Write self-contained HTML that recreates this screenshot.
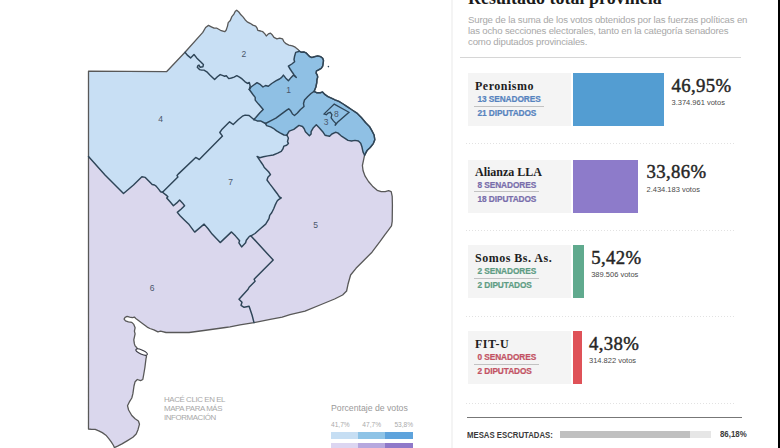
<!DOCTYPE html>
<html><head><meta charset="utf-8">
<style>
*{margin:0;padding:0;box-sizing:border-box}
html,body{width:780px;height:448px;overflow:hidden;background:#fff}
body{position:relative;font-family:"Liberation Sans",sans-serif}
.a{position:absolute;white-space:nowrap}
.serif{font-family:"Liberation Serif",serif}
.map{position:absolute;left:0;top:0}
.lbl{font-family:"Liberation Sans",sans-serif;font-size:8.5px;fill:#4a566a}
.vline{position:absolute;left:451px;top:0;width:2px;height:448px;background:#f4f4f4}
.rbar{position:absolute;left:778px;top:0;width:2px;height:448px;background:#000}
.title{left:468px;top:-10.6px;font-size:18px;font-weight:bold;color:#1a1a1a;line-height:18px}
.desc{left:468px;top:15px;font-size:9.6px;letter-spacing:-0.16px;line-height:10.75px;color:#a8a8a8}
.sep{position:absolute;left:460px;top:57px;width:281px;height:1px;background:#d6d6d6}
.box{position:absolute;left:468px;width:103px;height:53px;background:#f4f4f4}
.bar{position:absolute;left:573px;height:53px}
.party{position:absolute;left:475px;font-family:"Liberation Serif",serif;font-weight:bold;font-size:12px;letter-spacing:0.5px;color:#1e1e1e;white-space:nowrap;line-height:14px}
.seat{position:absolute;left:474px;font-weight:bold;font-size:8.3px;letter-spacing:-0.08px;-webkit-text-stroke:0.2px currentColor;line-height:10px;white-space:nowrap;padding:0 3.3px 1.5px 3.5px}
.pct{position:absolute;font-family:"Liberation Serif",serif;font-size:18.8px;letter-spacing:0.35px;color:#262626;-webkit-text-stroke:0.45px #262626;line-height:20px;white-space:nowrap}
.vot{position:absolute;font-size:7.5px;color:#4a4a4a;line-height:9px;white-space:nowrap}
.dots{position:absolute;left:466px;width:270px;height:1px;background-image:linear-gradient(to right,#e2e2e2 50%,transparent 50%);background-size:3px 1px}
.legend{font-size:8.7px;color:#9a9a9a}
.lnum{font-size:6.6px;color:#aaa}
.hint{left:164px;top:394.8px;font-size:7.9px;letter-spacing:-0.4px;line-height:9.25px;color:#a8a8a8}
</style></head><body>
<svg class="map" width="780" height="448" viewBox="0 0 780 448">
<g>
<polygon points="88.5,71.2 166.5,71.7 185,52.3 187.3,55.1 190.6,57.9 194,54.5 196.7,57.9 200.6,61.8 203.4,64.6 202.9,66.8 200.1,67.3 199,65.1 197.9,65.7 197.3,67.3 199.5,69.6 201.8,70.1 204,70.1 206.8,71.8 210.1,75.2 214.6,79.6 217.4,76.8 220.2,74.6 223,75.7 224.6,76.3 226.3,75.7 228.75,78.6 231.4,78 234.1,77.1 236.8,75.7 239.5,77.1 242.1,78.9 244.8,81.6 247.5,83.4 249.3,82.5 250.2,86 249.3,89.5 253.1,94.7 255.2,97.4 255.2,100.1 258.5,104.1 263.2,109.5 259.9,112.8 255.8,117.5 253.8,119.5 249.1,115.5 245.1,115.1 242.4,116.2 238.4,119.5 233.2,124.5 229.6,121.8 221.6,129.8 219.8,132.5 222.5,136.1 199.3,159.6 197.5,158.4 195.7,157.5 178.75,173.6 177,175.4 177.9,177.1 162.5,192.2 160.6,191.7 158.4,188.9 156.1,186.1 154.5,185 152.2,184.5 150,182.2 145.3,177.4 141.9,176.8 133.5,185 123.5,193.5 105,175 88.5,156.5" fill="#c8dff4"/>
<polygon points="185,52.3 202.8,32.4 205.6,27.5 208.5,25.4 211.3,26.8 214.1,28.2 216.9,28.2 220.5,30.3 224.7,31.7 226.1,30.3 227.5,26.1 228.2,22.6 230.3,20.5 231.7,16.9 233.9,14.1 235.3,11.3 236.7,10.2 238.8,12 240.9,14.8 243,16.9 245.1,19.7 247.2,21.9 250.1,23.3 252.9,25.1 255.7,26.1 257.1,28.2 257.8,30.3 260.6,31 262.8,31.7 264.9,33.9 266.3,36 268.4,33.9 270.5,33.1 272.6,35.3 274,37.4 276.9,38.8 279.7,38.1 282.5,38.8 283.9,41.6 286,43.7 288.9,45.1 292.4,45.8 295.2,47.2 298,49.4 299.6,51.3 295.7,52.4 294.6,56.2 294,59.5 294.6,61.7 291.8,64 288.4,66.2 290.1,69 292.3,72.3 294,74.6 296.3,77.4 293.5,75.1 291.2,77.4 288.4,80.7 285.6,77.9 283.4,75.1 281.7,77.4 279.5,79 276.2,80.7 271.7,83.5 268.3,86.3 265.5,85.5 263,87 260.5,84.7 257,82.7 251,87 249.3,89.5 250.2,86 249.3,82.5 247.5,83.4 244.8,81.6 242.1,78.9 239.5,77.1 236.8,75.7 234.1,77.1 231.4,78 228.75,78.6 226.3,75.7 224.6,76.3 223,75.7 220.2,74.6 217.4,76.8 214.6,79.6 210.1,75.2 206.8,71.8 204,70.1 201.8,70.1 199.5,69.6 197.3,67.3 197.9,65.7 199,65.1 200.1,67.3 202.9,66.8 203.4,64.6 200.6,61.8 196.7,57.9 194,54.5 190.6,57.9 187.3,55.1 185,52.3" fill="#c8dff4"/>
<polygon points="253.8,119.5 257.2,120.9 260.5,120.9 265.5,123.5 266.6,125.6 270.6,126.9 273.3,128.3 276.6,130.9 280,132.9 284,135 286.8,135.2 288.4,138 287.5,141.6 288.4,143.4 286.6,145.2 283.9,146.1 283,148.75 281.25,151.4 277.7,153.2 273.2,155 267.9,155.9 263.4,156.8 259.8,157.7 257.1,156.4 259.8,160.4 261.6,163 263.4,165.7 264.3,167.5 266.1,169.3 268.75,172 270.5,174.6 267.9,177.3 267,180 269.6,183.6 272.3,187.1 275,190.7 277.7,194.3 279.5,197 281.25,197.9 278.6,199.6 277,201.3 275,205.4 273.7,208.7 271.7,212.7 269.7,215.4 269,218.7 265.7,224.1 260.3,228.8 255,233.5 251,235.9 249.6,236.1 246.3,240.2 245.6,242.8 241.6,246.9 238.9,242.8 239.6,240.8 235.6,236.1 231.5,231.9 220.2,242.6 212.1,234.1 208.1,228.8 204.1,224.1 194.7,232.1 189.1,224.6 184.6,220.2 180.1,215.7 177.3,212.4 181.25,209 184.6,205.7 182.4,202.9 179.6,200.1 176.8,202.9 173.4,205.7 170.1,201.8 166.7,197.9 167.9,196.7 166.2,195.1 162.5,192.2 177.9,177.1 177,175.4 178.75,173.6 195.7,157.5 197.5,158.4 199.3,159.6 222.5,136.1 219.8,132.5 221.6,129.8 229.6,121.8 233.2,124.5 238.4,119.5 242.4,116.2 245.1,115.1 249.1,115.5 253.8,119.5" fill="#c8dff4"/>
<polygon points="88.5,156.5 105,175 123.5,193.5 133.5,185 141.9,176.8 145.3,177.4 150,182.2 152.2,184.5 154.5,185 156.1,186.1 158.4,188.9 160.6,191.7 162.5,192.2 166.2,195.1 167.9,196.7 166.7,197.9 170.1,201.8 173.4,205.7 176.8,202.9 179.6,200.1 182.4,202.9 184.6,205.7 181.25,209 177.3,212.4 180.1,215.7 184.6,220.2 189.1,224.6 194.7,232.1 204.1,224.1 208.1,228.8 212.1,234.1 220.2,242.6 231.5,231.9 235.6,236.1 239.6,240.8 238.9,242.8 241.6,246.9 245.6,242.8 246.3,240.2 249.6,236.1 251,235.9 273.2,260.1 254.1,279.2 255.1,281.2 249.1,287.2 248.1,289.2 239,299.2 242,302.2 241,305.3 244.1,307.3 249.1,306.3 250.1,309.3 252.1,315.3 254,322.6 240,324.9 230,326.9 225.4,327.5 203.9,330.5 189,332.5 176,332.5 166,332.5 160.6,331.1 157.9,331.8 153.9,329.8 149.9,328.5 147.2,327.1 143.8,324.4 141.1,322.4 138.5,320.4 135.8,318.4 134.4,317.1 132.4,317.7 129.7,317.1 127.1,316.4 125.1,317.3 124.1,319.1 125.5,320.8 128.4,321.8 131.8,322.4 133.8,324.4 135.1,327.8 134.4,331.1 135.1,333.8 134.4,337.2 133.8,339.9 134.4,343.9 135.1,345.9 136.4,347.2 138,349.5 141.5,351.5 145,353.5 146.5,356.6 146,358.7 144.9,367.5 143.8,374 142.8,379.5 140.6,380.6 137.3,379.5 135.1,381.7 134,386 132.9,393.7 131.8,398 129.7,401.3 127.5,405.7 128.6,410 131.8,415.5 135.1,418.8 138.4,421 139.5,424.2 138,429.7 136.2,434 132.9,437.3 127.5,440.6 122,443.9 117.6,446.1 114.4,447.6 113.5,445.5 111.25,441.9 108.6,438.4 105.9,435.2 102.3,432.6 98.75,430.8 95.2,429.3 91.6,429.4 88.5,429" fill="#dad7ed"/>
<polygon points="286.8,135.2 289.2,131.1 293.8,129.4 299,125.4 302.5,126.5 304.2,128.8 305.4,131.7 309.4,135.8 311.1,134 311.1,131.7 313.4,127.7 316.3,124.8 319.2,127.7 322.7,131.7 325,135.2 327.3,135.8 329.6,136.3 331.9,134 335.4,132.3 337.7,132.9 341.1,135.8 344.6,138.1 348,140.4 351.5,141 355,140.4 358.4,141 360.7,143.3 361.9,146.7 362.5,149.6 363,151.9 364.6,155.2 363.8,158.8 362.4,165.5 363.1,170.8 365.1,176.2 368.5,181.5 372.5,186.2 377.2,190.3 381.2,191.6 385.2,191.6 388.6,190.7 391.2,191.6 392.2,196.3 392.4,205 392.2,221.4 391.5,225.9 388.2,230.4 384.8,234.8 380.1,241.4 372,252.2 364,260.2 356,268.3 350.6,275 348,284.3 346.6,291 342.6,295 334.6,299 321.2,304.5 305,311.2 290,314.6 282.2,317.1 270.2,319.3 254,322.6 252.1,315.3 250.1,309.3 249.1,306.3 244.1,307.3 241,305.3 242,302.2 239,299.2 248.1,289.2 249.1,287.2 255.1,281.2 254.1,279.2 273.2,260.1 251,235.9 255,233.5 260.3,228.8 265.7,224.1 269,218.7 269.7,215.4 271.7,212.7 273.7,208.7 275,205.4 277,201.3 278.6,199.6 281.25,197.9 279.5,197 277.7,194.3 275,190.7 272.3,187.1 269.6,183.6 267,180 267.9,177.3 270.5,174.6 268.75,172 266.1,169.3 264.3,167.5 263.4,165.7 261.6,163 259.8,160.4 257.1,156.4 259.8,157.7 263.4,156.8 267.9,155.9 273.2,155 277.7,153.2 281.25,151.4 283,148.75 283.9,146.1 286.6,145.2 288.4,143.4 287.5,141.6 288.4,138 286.8,135.2" fill="#dad7ed"/>
<polygon points="299.6,51.3 301.25,52.2 304,52 306,52.8 307.9,54.8 309.8,56.7 311.8,57.5 314.5,56.7 317.7,55.9 320.8,56.7 322.7,58.3 323.5,60.6 323.1,63.75 322.7,66.1 321.2,68.4 318.4,70 316.5,70.8 316.1,73.1 317.3,75.1 317.7,77 316.9,80 316.8,82.5 315.9,87 314.1,91.4 311,93.5 307.8,96.6 304.5,100 303.5,103.5 304,106.5 300.5,109.5 297.4,113 294.5,115.5 292.5,114 290.7,110.8 288.7,108.8 286.7,110.2 281.3,114.2 275.9,118.2 270.6,120.9 265.5,123.5 260.5,120.9 257.2,120.9 253.8,119.5 255.8,117.5 259.9,112.8 263.2,109.5 258.5,104.1 255.2,100.1 255.2,97.4 253.1,94.7 249.3,89.5 251,87 257,82.7 260.5,84.7 263,87 265.5,85.5 268.3,86.3 271.7,83.5 276.2,80.7 279.5,79 281.7,77.4 283.4,75.1 285.6,77.9 288.4,80.7 291.2,77.4 293.5,75.1 296.3,77.4 294,74.6 292.3,72.3 290.1,69 288.4,66.2 291.8,64 294.6,61.7 294,59.5 294.6,56.2 295.7,52.4 299.6,51.3" fill="#8fc0e4"/>
<polygon points="314.1,91.4 317,92.8 320.2,92.8 322.5,92 324.8,94.4 328,96.7 331.9,98.3 335,99.8 338.9,101.4 342.8,103.75 347.5,106.9 352.2,110 356.9,113.1 361.6,117.8 365.5,122.5 369.4,126.4 371.7,130.3 374.1,135 374.8,139.7 373.3,143.6 370.2,147.5 367,150.6 364.6,155.2 363,151.9 362.5,149.6 361.9,146.7 360.7,143.3 358.4,141 355,140.4 351.5,141 348,140.4 344.6,138.1 341.1,135.8 337.7,132.9 335.4,132.3 331.9,134 329.6,136.3 327.3,135.8 325,135.2 322.7,131.7 319.2,127.7 316.3,124.8 313.4,127.7 311.1,131.7 311.1,134 309.4,135.8 305.4,131.7 304.2,128.8 302.5,126.5 299,125.4 293.8,129.4 289.2,131.1 286.8,135.2 284,135 280,132.9 276.6,130.9 273.3,128.3 270.6,126.9 266.6,125.6 265.5,123.5 270.6,120.9 275.9,118.2 281.3,114.2 286.7,110.2 288.7,108.8 290.7,110.8 292.5,114 294.5,115.5 297.4,113 300.5,109.5 304,106.5 303.5,103.5 304.5,100 307.8,96.6 311,93.5 314.1,91.4" fill="#8fc0e4"/>
</g>
<polygon points="88.5,71.2 166.5,71.7 185,52.3 202.8,32.4 205.6,27.5 208.5,25.4 211.3,26.8 214.1,28.2 216.9,28.2 220.5,30.3 224.7,31.7 226.1,30.3 227.5,26.1 228.2,22.6 230.3,20.5 231.7,16.9 233.9,14.1 235.3,11.3 236.7,10.2 238.8,12 240.9,14.8 243,16.9 245.1,19.7 247.2,21.9 250.1,23.3 252.9,25.1 255.7,26.1 257.1,28.2 257.8,30.3 260.6,31 262.8,31.7 264.9,33.9 266.3,36 268.4,33.9 270.5,33.1 272.6,35.3 274,37.4 276.9,38.8 279.7,38.1 282.5,38.8 283.9,41.6 286,43.7 288.9,45.1 292.4,45.8 295.2,47.2 298,49.4 299.6,51.3 301.25,52.2 304,52 306,52.8 307.9,54.8 309.8,56.7 311.8,57.5 314.5,56.7 317.7,55.9 320.8,56.7 322.7,58.3 323.5,60.6 323.1,63.75 322.7,66.1 321.2,68.4 318.4,70 316.5,70.8 316.1,73.1 317.3,75.1 317.7,77 316.9,80 316.8,82.5 315.9,87 314.1,91.4 317,92.8 320.2,92.8 322.5,92 324.8,94.4 328,96.7 331.9,98.3 335,99.8 338.9,101.4 342.8,103.75 347.5,106.9 352.2,110 356.9,113.1 361.6,117.8 365.5,122.5 369.4,126.4 371.7,130.3 374.1,135 374.8,139.7 373.3,143.6 370.2,147.5 367,150.6 364.6,155.2 363.8,158.8 362.4,165.5 363.1,170.8 365.1,176.2 368.5,181.5 372.5,186.2 377.2,190.3 381.2,191.6 385.2,191.6 388.6,190.7 391.2,191.6 392.2,196.3 392.4,205 392.2,221.4 391.5,225.9 388.2,230.4 384.8,234.8 380.1,241.4 372,252.2 364,260.2 356,268.3 350.6,275 348,284.3 346.6,291 342.6,295 334.6,299 321.2,304.5 305,311.2 290,314.6 282.2,317.1 270.2,319.3 254,322.6 240,324.9 230,326.9 225.4,327.5 203.9,330.5 189,332.5 176,332.5 166,332.5 160.6,331.1 157.9,331.8 153.9,329.8 149.9,328.5 147.2,327.1 143.8,324.4 141.1,322.4 138.5,320.4 135.8,318.4 134.4,317.1 132.4,317.7 129.7,317.1 127.1,316.4 125.1,317.3 124.1,319.1 125.5,320.8 128.4,321.8 131.8,322.4 133.8,324.4 135.1,327.8 134.4,331.1 135.1,333.8 134.4,337.2 133.8,339.9 134.4,343.9 135.1,345.9 136.4,347.2 138,349.5 141.5,351.5 145,353.5 146.5,356.6 146,358.7 144.9,367.5 143.8,374 142.8,379.5 140.6,380.6 137.3,379.5 135.1,381.7 134,386 132.9,393.7 131.8,398 129.7,401.3 127.5,405.7 128.6,410 131.8,415.5 135.1,418.8 138.4,421 139.5,424.2 138,429.7 136.2,434 132.9,437.3 127.5,440.6 122,443.9 117.6,446.1 114.4,447.6 113.5,445.5 111.25,441.9 108.6,438.4 105.9,435.2 102.3,432.6 98.75,430.8 95.2,429.3 91.6,429.4 88.5,429" fill="none" stroke="#585858" stroke-width="1.3" stroke-linejoin="round"/>
<g fill="none" stroke="#2e4558" stroke-width="1.45" stroke-linejoin="round" stroke-linecap="round">
<polyline points="299.6,51.3 301.25,52.2 304,52 306,52.8 307.9,54.8 309.8,56.7 311.8,57.5 314.5,56.7 317.7,55.9 320.8,56.7 322.7,58.3 323.5,60.6 323.1,63.75 322.7,66.1 321.2,68.4 318.4,70 316.5,70.8 316.1,73.1 317.3,75.1 317.7,77 316.9,80 316.8,82.5 315.9,87 314.1,91.4"/>
<polyline points="314.1,91.4 317,92.8 320.2,92.8 322.5,92 324.8,94.4 328,96.7 331.9,98.3 335,99.8 338.9,101.4 342.8,103.75 347.5,106.9 352.2,110 356.9,113.1 361.6,117.8 365.5,122.5 369.4,126.4 371.7,130.3 374.1,135 374.8,139.7 373.3,143.6 370.2,147.5 367,150.6 364.6,155.2"/>
<polyline points="185,52.3 187.3,55.1 190.6,57.9 194,54.5 196.7,57.9 200.6,61.8 203.4,64.6 202.9,66.8 200.1,67.3 199,65.1 197.9,65.7 197.3,67.3 199.5,69.6 201.8,70.1 204,70.1 206.8,71.8 210.1,75.2 214.6,79.6 217.4,76.8 220.2,74.6 223,75.7 224.6,76.3 226.3,75.7 228.75,78.6 231.4,78 234.1,77.1 236.8,75.7 239.5,77.1 242.1,78.9 244.8,81.6 247.5,83.4 249.3,82.5 250.2,86 249.3,89.5"/>
<polyline points="249.3,89.5 251,87 257,82.7 260.5,84.7 263,87 265.5,85.5 268.3,86.3 271.7,83.5 276.2,80.7 279.5,79 281.7,77.4 283.4,75.1 285.6,77.9 288.4,80.7 291.2,77.4 293.5,75.1 296.3,77.4 294,74.6 292.3,72.3 290.1,69 288.4,66.2 291.8,64 294.6,61.7 294,59.5 294.6,56.2 295.7,52.4 299.6,51.3"/>
<polyline points="249.3,89.5 253.1,94.7 255.2,97.4 255.2,100.1 258.5,104.1 263.2,109.5 259.9,112.8 255.8,117.5 253.8,119.5"/>
<polyline points="162.5,192.2 177.9,177.1 177,175.4 178.75,173.6 195.7,157.5 197.5,158.4 199.3,159.6 222.5,136.1 219.8,132.5 221.6,129.8 229.6,121.8 233.2,124.5 238.4,119.5 242.4,116.2 245.1,115.1 249.1,115.5 253.8,119.5"/>
<polyline points="88.5,156.5 105,175 123.5,193.5 133.5,185 141.9,176.8 145.3,177.4 150,182.2 152.2,184.5 154.5,185 156.1,186.1 158.4,188.9 160.6,191.7 162.5,192.2"/>
<polyline points="253.8,119.5 257.2,120.9 260.5,120.9 265.5,123.5"/>
<polyline points="265.5,123.5 270.6,120.9 275.9,118.2 281.3,114.2 286.7,110.2 288.7,108.8 290.7,110.8 292.5,114 294.5,115.5 297.4,113 300.5,109.5 304,106.5 303.5,103.5 304.5,100 307.8,96.6 311,93.5 314.1,91.4"/>
<polyline points="265.5,123.5 266.6,125.6 270.6,126.9 273.3,128.3 276.6,130.9 280,132.9 284,135 286.8,135.2"/>
<polyline points="286.8,135.2 289.2,131.1 293.8,129.4 299,125.4 302.5,126.5 304.2,128.8 305.4,131.7 309.4,135.8 311.1,134 311.1,131.7 313.4,127.7 316.3,124.8 319.2,127.7 322.7,131.7 325,135.2 327.3,135.8 329.6,136.3 331.9,134 335.4,132.3 337.7,132.9 341.1,135.8 344.6,138.1 348,140.4 351.5,141 355,140.4 358.4,141 360.7,143.3 361.9,146.7 362.5,149.6 363,151.9 364.6,155.2"/>
<polyline points="286.8,135.2 288.4,138 287.5,141.6 288.4,143.4 286.6,145.2 283.9,146.1 283,148.75 281.25,151.4 277.7,153.2 273.2,155 267.9,155.9 263.4,156.8 259.8,157.7 257.1,156.4 259.8,160.4 261.6,163 263.4,165.7 264.3,167.5 266.1,169.3 268.75,172 270.5,174.6 267.9,177.3 267,180 269.6,183.6 272.3,187.1 275,190.7 277.7,194.3 279.5,197 281.25,197.9 278.6,199.6 277,201.3 275,205.4 273.7,208.7 271.7,212.7 269.7,215.4 269,218.7 265.7,224.1 260.3,228.8 255,233.5 251,235.9"/>
<polyline points="162.5,192.2 166.2,195.1 167.9,196.7 166.7,197.9 170.1,201.8 173.4,205.7 176.8,202.9 179.6,200.1 182.4,202.9 184.6,205.7 181.25,209 177.3,212.4 180.1,215.7 184.6,220.2 189.1,224.6 194.7,232.1 204.1,224.1 208.1,228.8 212.1,234.1 220.2,242.6 231.5,231.9 235.6,236.1 239.6,240.8 238.9,242.8 241.6,246.9 245.6,242.8 246.3,240.2 249.6,236.1 251,235.9"/>
<polyline points="251,235.9 273.2,260.1 254.1,279.2 255.1,281.2 249.1,287.2 248.1,289.2 239,299.2 242,302.2 241,305.3 244.1,307.3 249.1,306.3 250.1,309.3 252.1,315.3 254,322.6"/>
<polygon points="324.1,113.9 334.2,104.1 349,112.3 337.3,122.5 335,125.6 335.8,123.3 333.4,120.9 331.1,117.8 331.9,114.7 330.3,112.3 328,113.1 326.4,114.7" fill="#8fc0e4" stroke-linejoin="miter" stroke-width="1.3"/>
</g>

<ellipse cx="141.6" cy="352.1" rx="6.2" ry="2" transform="rotate(24 141.6 352.1)" fill="#fff" stroke="#3a3a44" stroke-width="1.2"/>
<circle cx="328.4" cy="66.6" r="0.8" fill="#2e4558"/>
<text class="lbl" x="160.5" y="122.3" text-anchor="middle">4</text>
<text class="lbl" x="243.9" y="57" text-anchor="middle">2</text>
<text class="lbl" x="288.7" y="92.5" text-anchor="middle">1</text>
<text class="lbl" x="326" y="125" text-anchor="middle">3</text>
<text class="lbl" x="336.4" y="116.5" text-anchor="middle">8</text>
<text class="lbl" x="230.6" y="185" text-anchor="middle">7</text>
<text class="lbl" x="315.7" y="228" text-anchor="middle">5</text>
<text class="lbl" x="152" y="291" text-anchor="middle">6</text>
</svg>

<div class="a hint">HACÉ CLIC EN EL<br>MAPA PARA MÁS<br>INFORMACIÓN</div>

<div class="a legend" style="left:331px;top:403px">Porcentaje de votos</div>
<div class="a lnum" style="left:331px;top:421.2px">41,7%</div>
<div class="a lnum" style="left:362.3px;top:421.2px">47,7%</div>
<div class="a lnum" style="left:394.4px;top:421.2px">53,8%</div>
<div class="a" style="left:331px;top:432px;width:27px;height:7px;background:#c6def3"></div>
<div class="a" style="left:358px;top:432px;width:27px;height:7px;background:#8ec3e6"></div>
<div class="a" style="left:385px;top:432px;width:28px;height:7px;background:#5ea3dc"></div>
<div class="a" style="left:331px;top:443px;width:27px;height:5px;background:#dcd6f1"></div>
<div class="a" style="left:358px;top:443px;width:27px;height:5px;background:#b6a8de"></div>
<div class="a" style="left:385px;top:443px;width:28px;height:5px;background:#8f79c9"></div>

<div class="vline"></div>
<div class="rbar"></div>

<div class="a title serif">Resultado total provincia</div>
<div class="a desc">Surge de la suma de los votos obtenidos por las fuerzas políticas en<br>las ocho secciones electorales, tanto en la categoría senadores<br>como diputados provinciales.</div>
<div class="sep"></div>

<!-- card 1 -->
<div class="box" style="top:73px"></div>
<div class="bar" style="top:73px;width:90.5px;background:#539dd2"></div>
<div class="party" style="top:79px">Peronismo</div>
<div class="seat" style="top:94px;color:#5683be;border-bottom:1px solid #c2c2c2">13 SENADORES</div>
<div class="seat" style="top:108px;color:#5683be">21 DIPUTADOS</div>
<div class="pct" style="left:671.5px;top:76px">46,95%</div>
<div class="vot" style="left:671.5px;top:98px">3.374.961 votos</div>
<div class="dots" style="top:143px"></div>

<!-- card 2 -->
<div class="box" style="top:159.5px"></div>
<div class="bar" style="top:159.5px;width:64.5px;background:#8d7bca"></div>
<div class="party" style="top:164.7px;letter-spacing:0">Alianza LLA</div>
<div class="seat" style="top:179.7px;color:#786dab;border-bottom:1px solid #c2c2c2">8 SENADORES</div>
<div class="seat" style="top:193.7px;color:#786dab">18 DIPUTADOS</div>
<div class="pct" style="left:646.5px;top:161.7px">33,86%</div>
<div class="vot" style="left:646.5px;top:184.5px">2.434.183 votos</div>
<div class="dots" style="top:229.5px"></div>

<!-- card 3 -->
<div class="box" style="top:245px"></div>
<div class="bar" style="top:245px;width:10.5px;background:#60aa8e"></div>
<div class="party" style="top:251px">Somos Bs. As.</div>
<div class="seat" style="top:266px;color:#5d9c83;border-bottom:1px solid #c2c2c2">2 SENADORES</div>
<div class="seat" style="top:280px;color:#5d9c83">2 DIPUTADOS</div>
<div class="pct" style="left:591.2px;top:248.4px">5,42%</div>
<div class="vot" style="left:591.2px;top:270px">389.506 votos</div>
<div class="dots" style="top:315.5px"></div>

<!-- card 4 -->
<div class="box" style="top:331px"></div>
<div class="bar" style="top:331px;width:8.5px;background:#df5258"></div>
<div class="party" style="top:337px">FIT-U</div>
<div class="seat" style="top:352px;color:#c25263;border-bottom:1px solid #c2c2c2">0 SENADORES</div>
<div class="seat" style="top:366px;color:#c25263">2 DIPUTADOS</div>
<div class="pct" style="left:589px;top:334px">4,38%</div>
<div class="vot" style="left:589px;top:356px">314.822 votos</div>
<div class="dots" style="top:402.5px"></div>

<div class="a" style="left:466.5px;top:416.5px;width:275px;height:1px;background:#777"></div>
<div class="a" style="left:466.5px;top:429.5px;font-size:8.7px;font-weight:bold;color:#3a3a3a;line-height:10px;transform:scaleX(0.895);transform-origin:0 0">MESAS ESCRUTADAS:</div>
<div class="a" style="left:559.6px;top:431px;width:151.2px;height:6.5px;background:#e6e6e6"></div>
<div class="a" style="left:559.6px;top:431px;width:130.8px;height:6.5px;background:#c0c0c0"></div>
<div class="a" style="left:719.6px;top:429.3px;font-size:8.7px;font-weight:bold;color:#3a3a3a;line-height:10px;transform:scaleX(0.905);transform-origin:0 0">86,18%</div>
</body></html>
